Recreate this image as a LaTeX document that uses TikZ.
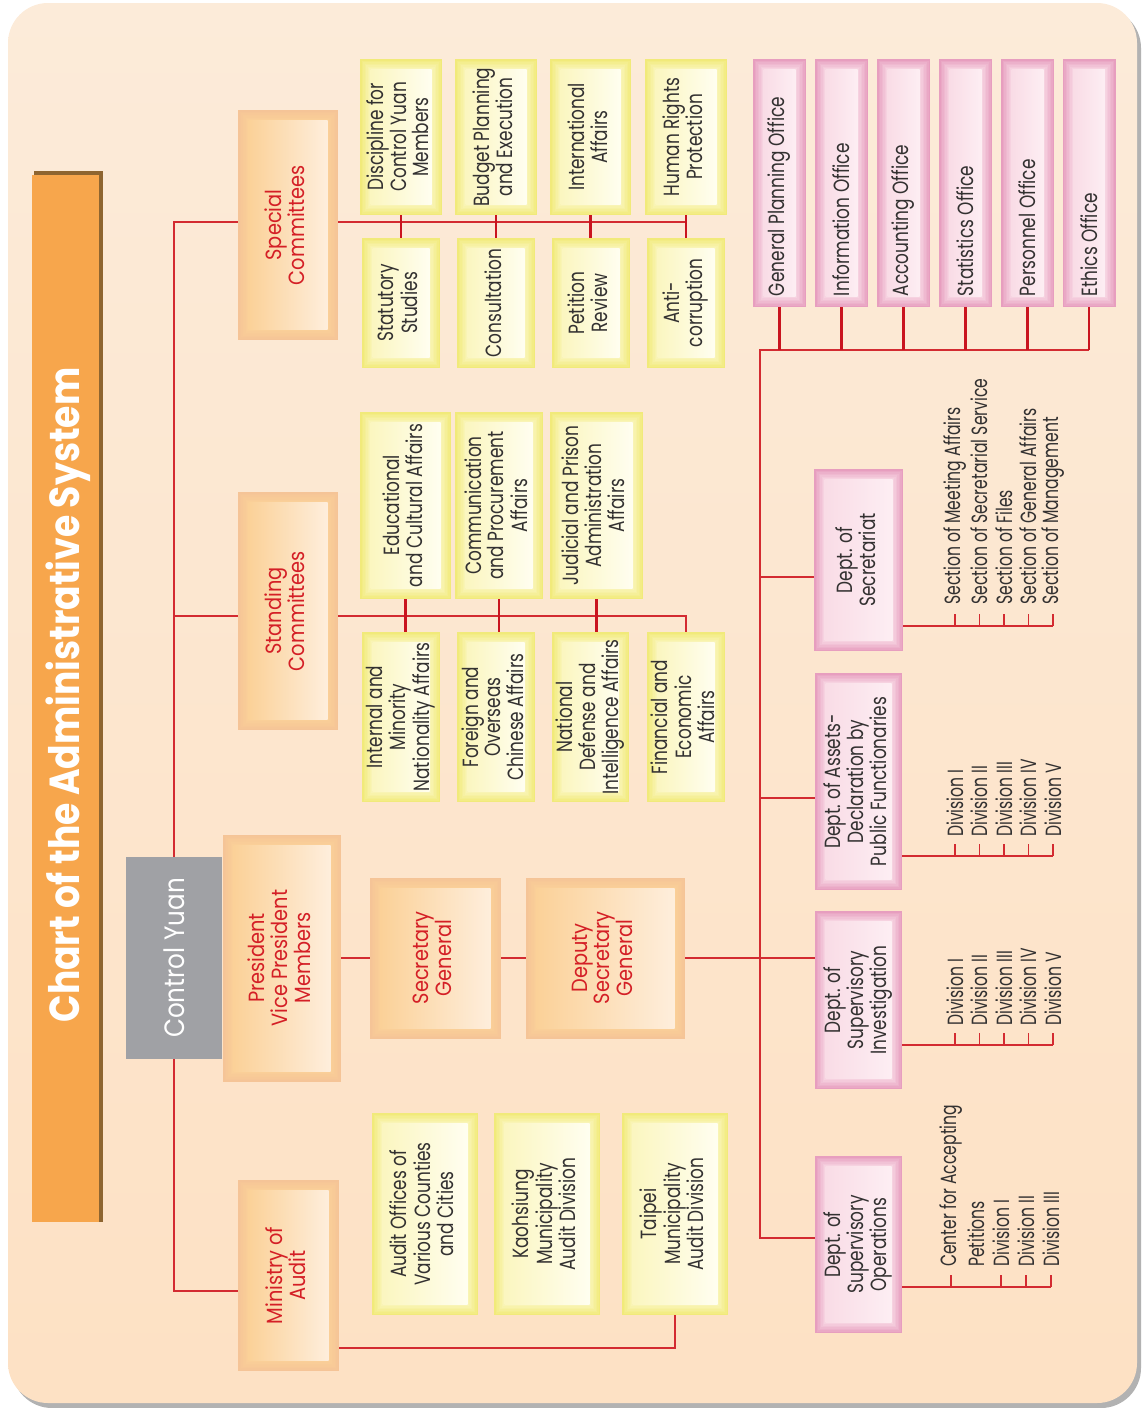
\documentclass[tikz,border=0pt]{standalone}
\usepackage{fontspec}
\setmainfont{Poppins}[FakeStretch=0.77]
\newfontfamily\redfont{Poppins}[FakeStretch=0.88]
\newfontfamily\listfont{Poppins}[FakeStretch=0.71]
\newfontfamily\titlefont{Poppins}[FakeStretch=0.86]
\usepackage{graphicx}
\usetikzlibrary{calc}
\definecolor{PanelTop}{HTML}{FCEBD9}
\definecolor{PanelBot}{HTML}{FDE1C4}
\definecolor{TitleOrange}{HTML}{F7A64C}
\definecolor{TitleShade}{HTML}{8E6530}
\definecolor{LinkRed}{HTML}{D32B31}
\definecolor{StubRed}{HTML}{C9141F}
\definecolor{TextRed}{HTML}{D41F26}
\definecolor{TextGray}{HTML}{333131}
\definecolor{OrgEdge}{HTML}{F5C497}
\definecolor{OrgLeft}{HTML}{FBD198}
\definecolor{OrgRight}{HTML}{FEEEDC}
\definecolor{YlwEdge}{HTML}{F1EA7A}
\definecolor{YlwLeft}{HTML}{FBF6C0}
\definecolor{YlwRight}{HTML}{FFFEF0}
\definecolor{PnkEdge}{HTML}{E79EBF}
\definecolor{PnkLeft}{HTML}{F9DCE6}
\definecolor{PnkRight}{HTML}{FDEEF3}
\definecolor{YuanGray}{HTML}{A0A1A5}
\newcommand{\vtext}[1]{\rotatebox{90}{\begin{tabular}{@{}c@{}}#1\end{tabular}}}
\tikzset{
 glow/.style n args={3}{fill=#1, path picture={
   \foreach \k/\m in {1.5/84,3/70,4.5/56,6/42,7.5/29,9/16}
    \fill[#1!\m!#2] ([shift={(\k pt,\k pt)}]path picture bounding box.south west) rectangle
     ([shift={(-\k pt,-\k pt)}]path picture bounding box.north east);
   \shade[left color=#2,right color=#3]
    ([shift={(10.5pt,10.5pt)}]path picture bounding box.south west) rectangle
    ([shift={(-10.5pt,-10.5pt)}]path picture bounding box.north east);}},
 orgbox/.style={glow={OrgEdge}{OrgLeft}{OrgRight}, text=TextRed, inner sep=0pt,
   font=\redfont\fontsize{22}{21.5}\selectfont},
 ylwbox/.style={glow={YlwEdge}{YlwLeft}{YlwRight}, text=TextGray, inner sep=0pt},
 pnkbox/.style={glow={PnkEdge}{PnkLeft}{PnkRight}, text=TextGray, inner sep=0pt},
 link/.style={draw=LinkRed, line width=1.6pt},
 stub/.style={draw=StubRed, line width=2.5pt},
 listitem/.style={text=TextGray, inner sep=0pt, anchor=south,
   font=\listfont\fontsize{22}{21.5}\selectfont},
}
\begin{document}
\begin{tikzpicture}[x=1pt, y=-1pt, font=\fontsize{22}{21.5}\selectfont]
\useasboundingbox (0,0) rectangle (1141,1408);
% panel
\fill[gray!60, rounded corners=40pt] (12,8) rectangle (1141,1408);
\shade[top color=PanelTop, bottom color=PanelBot, rounded corners=40pt] (8,3) rectangle (1137,1403);
% title bar
\fill[TitleShade] (34,171) rectangle (103,1222);
\fill[TitleOrange] (32,175) rectangle (99,1222);
\node[text=white, font=\titlefont\bfseries\fontsize{42}{42}\selectfont] (title) at (68,695)
 {\rotatebox{90}{Chart of the Administrative System}};

% top level
\node[fill=YuanGray, minimum width=96, minimum height=202, text=white,
 font=\redfont\fontsize{28}{28}\selectfont, inner sep=0pt] (cy) at (174,958) {\rotatebox{90}{Control Yuan}};
\node[orgbox, minimum width=118, minimum height=247] (pvm) at (282,958) {\vtext{President\\Vice President\\Members}};
\node[orgbox, minimum width=131, minimum height=161] (sg) at (435.5,958) {\vtext{Secretary\\General}};
\node[orgbox, minimum width=159, minimum height=161] (dsg) at (605.5,958) {\vtext{Deputy\\Secretary\\General}};
\node[orgbox, minimum width=100, minimum height=230] (sc) at (288,225) {\vtext{Special\\Committees}};
\node[orgbox, minimum width=100, minimum height=238] (stc) at (288,611) {\vtext{Standing\\Committees}};
\node[orgbox, minimum width=101, minimum height=191] (ma) at (288.5,1275.5) {\vtext{Ministry of\\Audit}};

% committees and audit offices
\foreach \nm/\px/\py/\bw/\bh/\txt in {
 sdis/401/137/82/156/{Discipline for\\Control Yuan\\Members},
 sbud/496/137/82/156/{Budget Planning\\and Execution},
 sint/590.5/137/81/156/{International\\Affairs},
 shr/686/137/82/156/{Human Rights\\Protection},
 sstu/401/303/78/130/{Statutory\\Studies},
 scon/496/303/78/130/{Consultation},
 spet/591/303/78/130/{Petition\\Review},
 santi/686/303/78/130/{Anti-\\corruption},
 tedu/405.5/505.5/91/187/{Educational\\and Cultural Affairs},
 tcom/499/505.5/88/187/{Communication\\and Procurement\\Affairs},
 tjud/596.5/505.5/93/187/{Judicial and Prison\\Administration\\Affairs},
 tint/401/717/78/170/{Internal and\\Minority\\Nationality Affairs},
 tfor/496/717/78/170/{Foreign and\\Overseas\\Chinese Affairs},
 tnat/590.5/717/77/170/{National\\Defense and\\Intelligence Affairs},
 tfin/686/717/78/170/{Financial and\\Economic\\Affairs},
 aoff/425/1214/106/202/{Audit Offices of\\Various Counties\\and Cities},
 akao/547/1214/106/202/{Kaohsiung\\Municipality\\Audit Division},
 atai/675/1214/106/202/{Taipei\\Municipality\\Audit Division}}
 \node[ylwbox, minimum width=\bw, minimum height=\bh] (\nm) at (\px,\py) {\vtext{\txt}};

% offices
\foreach \nm/\px/\txt in {ogp/779.5/General Planning Office, oinf/841.5/Information Office,
 oacc/903.5/Accounting Office, osta/965.5/Statistics Office, oper/1027.5/Personnel Office,
 oeth/1089/Ethics Office}
 \node[pnkbox, minimum width=53, minimum height=248] (\nm) at (\px,183)
  {\rotatebox{90}{\makebox[226pt][l]{\txt}}};

% departments
\node[pnkbox, minimum width=89, minimum height=182] (dsec) at (858.5,560) {\vtext{Dept. of\\Secretariat}};
\node[pnkbox, minimum width=87, minimum height=217] (dass) at (858.5,781.5) {\vtext{Dept. of Assets-\\Declaration by\\Public Functionaries}};
\node[pnkbox, minimum width=87, minimum height=178] (dinv) at (858.5,1000) {\vtext{Dept. of\\Supervisory\\Investigation}};
\node[pnkbox, minimum width=87, minimum height=177] (dope) at (858.5,1244.5) {\vtext{Dept. of\\Supervisory\\Operations}};

% sections and divisions
\foreach \t [count=\i] in {Section of Meeting Affairs, Section of Secretarial Service,
 Section of Files, Section of General Affairs, Section of Management}
 \node[listitem] (sec\i) at (930.5+24.5*\i,605) {\rotatebox{90}{\t}};
\foreach \t [count=\i] in {Division I, Division II, Division III, Division IV, Division V} {
 \node[listitem] (ass\i) at (930.5+24.5*\i,837) {\rotatebox{90}{\t}};
 \node[listitem] (inv\i) at (930.5+24.5*\i,1026) {\rotatebox{90}{\t}};
}
\foreach \t [count=\i] in {Center for Accepting, Petitions, Division I, Division II, Division III}
 \node[listitem] (ope\i) at (926+25*\i,1267) {\rotatebox{90}{\t}};

% connectors
\draw[link] (cy.north) |- ([yshift=3pt]sc.west);
\draw[link] (cy.north) |- ([yshift=-5pt]stc.west);
\draw[link] (cy.south) |- ([yshift=-15.5pt]ma.west);
\draw[link] ([yshift=-72.5pt]ma.east) -| (atai.south);
\draw[link] ([yshift=3pt]sc.east) -- ([yshift=3pt]sc.east -| shr.south);
\foreach \a/\b in {sdis/sstu, sbud/scon, sint/spet, shr/santi}
 \draw[stub] (\a.south) -- (\a.south |- \b.north);
\draw[link] ([yshift=-5pt]stc.east) -| (tfin.north);
\foreach \a/\b in {tedu/tint, tcom/tfor, tjud/tnat}
 \draw[stub] (\a.south) -- (\a.south |- \b.north);
\draw[link] (pvm) -- (sg) -- (dsg);
\draw[link] (dsg.east) -- (dsg.east -| dinv.west);

\coordinate (trtop) at (760,350);
\coordinate (trbot) at (760,1238);
\coordinate (brsec) at (760,577);
\coordinate (brass) at (760,798);
\draw[link] (oeth.south |- trtop) -- (trtop) -- (trbot) -- (trbot -| dope.west);
\draw[link] (brsec) -- (brsec -| dsec.west);
\draw[link] (brass) -- (brass -| dass.west);
\foreach \o in {ogp,oinf,oacc,osta,oper,oeth}
 \draw[stub] (\o.south) -- (\o.south |- trtop);

\coordinate (secbar) at (1053,626);
\coordinate (assbar) at (1053,856);
\coordinate (invbar) at (1053,1045);
\coordinate (opebar) at (1051,1287);
\draw[link] (secbar -| dsec.east) -- (secbar);
\draw[link] (assbar -| dass.east) -- (assbar);
\draw[link] (invbar -| dinv.east) -- (invbar);
\draw[link] (opebar -| dope.east) -- (opebar);
\foreach \i in {1,...,5} {
 \draw[link] (sec\i.south |- secbar) -- ++(0,-12);
 \draw[link] (ass\i.south |- assbar) -- ++(0,-12);
 \draw[link] (inv\i.south |- invbar) -- ++(0,-12);
}
\foreach \i in {1,3,4,5}
 \draw[link] (ope\i.south |- opebar) -- ++(0,-12);
\end{tikzpicture}
\end{document}
